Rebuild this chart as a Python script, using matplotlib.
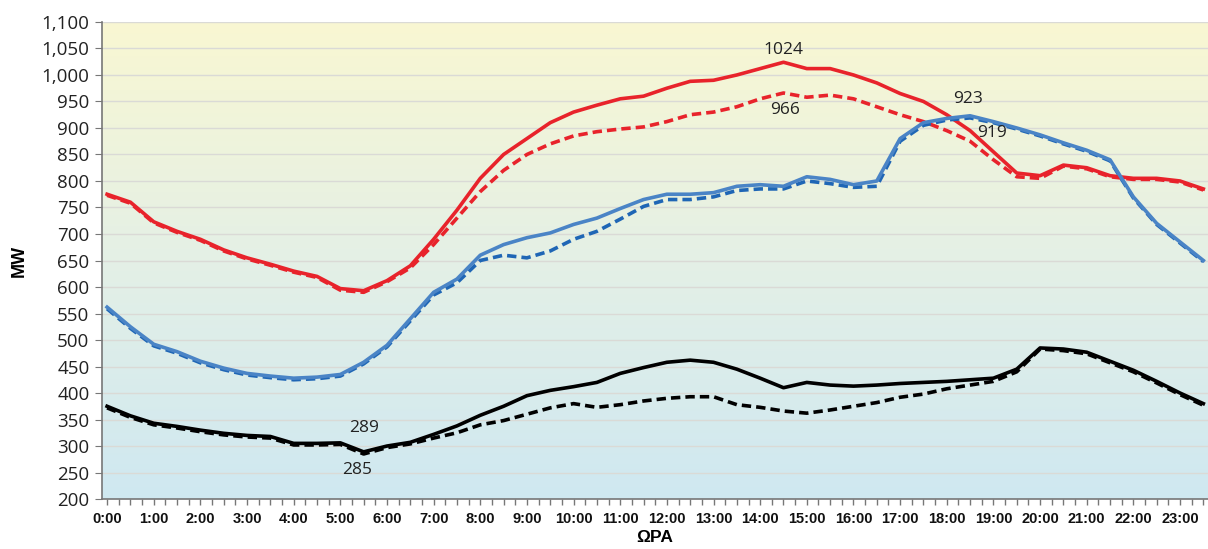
import numpy as np
import matplotlib
matplotlib.use("Agg")
import matplotlib.pyplot as plt
from matplotlib.colors import LinearSegmentedColormap

# Half-hour time points (hours)
hours = [h / 2 for h in range(48)]

red_solid = [775, 760, 723, 705, 690, 670, 655, 643, 630, 620, 597, 593,
             612, 640, 690, 745, 805, 850, 880, 910, 930, 943, 955, 960,
             975, 988, 990, 1000, 1012, 1024, 1012, 1012, 1000, 985, 965, 950,
             925, 895, 855, 815, 810, 830, 825, 810, 805, 805, 800, 785]
red_dashed = [773, 758, 721, 703, 688, 668, 653, 641, 628, 618, 594, 590,
              610, 636, 680, 730, 780, 820, 850, 870, 885, 893, 898, 902,
              912, 925, 930, 940, 955, 966, 958, 962, 955, 940, 925, 912,
              895, 875, 840, 808, 805, 828, 823, 808, 803, 803, 798, 783]
blue_solid = [562, 525, 492, 478, 460, 447, 437, 432, 428, 430, 435, 458,
              490, 540, 590, 615, 660, 680, 693, 702, 718, 730, 748, 765,
              775, 775, 778, 790, 793, 790, 808, 803, 793, 800, 880, 910,
              918, 923, 912, 900, 887, 872, 858, 840, 770, 720, 685, 650]
blue_dashed = [559, 522, 489, 475, 457, 444, 434, 429, 425, 427, 432, 455,
               487, 536, 585, 608, 650, 660, 655, 668, 690, 705, 728, 752,
               765, 765, 770, 782, 785, 785, 800, 795, 788, 790, 875, 905,
               915, 919, 910, 898, 885, 870, 856, 838, 768, 718, 683, 648]
black_solid = [375, 357, 343, 337, 330, 324, 320, 318, 305, 305, 306, 289,
               300, 307, 322, 338, 358, 375, 395, 405, 412, 420, 437, 448,
               458, 462, 458, 445, 428, 410, 420, 415, 413, 415, 418, 420,
               422, 425, 428, 445, 485, 483, 477, 460, 443, 422, 400, 380]
black_dashed = [372, 354, 340, 334, 327, 321, 317, 315, 302, 302, 303, 285,
                297, 304, 315, 325, 340, 348, 360, 372, 380, 373, 378, 385,
                390, 393, 393, 378, 373, 366, 362, 368, 375, 382, 392, 398,
                408, 415, 422, 440, 483, 480, 474, 457, 440, 419, 397, 377]

xtick_labels = [f"{h}:00" for h in range(24)]
annotations = [("1024", 14.49, 1047), ("966", 14.53, 934), ("923", 18.46, 955),
               ("919", 18.97, 890), ("289", 5.51, 334), ("285", 5.36, 255)]

fig = plt.figure(figsize=(12.08, 5.49), dpi=100)
ax = fig.add_axes([0.0844, 0.091, 0.9156, 0.869])

xmin, xmax = -0.11, 23.6
ymin, ymax = 200, 1100

# gradient background
cmap = LinearSegmentedColormap.from_list("bg", ["#cfe8f1", "#e4f0e6", "#f9f7d2"])
grad = np.linspace(0, 1, 256).reshape(-1, 1)
ax.imshow(grad, extent=[xmin, xmax, ymin, ymax], origin="lower", aspect="auto",
          cmap=cmap, zorder=0)

for y in range(250, 1101, 50):
    ax.axhline(y, color="#dadad6", lw=1.0, zorder=1)

red = "#e8232b"
blue_s = "#4a84c6"
blue_d = "#1f66b5"
lw = 2.6
dash = (0, (2.6, 1.4))
ax.plot(hours, red_solid, color=red, lw=lw, zorder=3)
ax.plot(hours, red_dashed, color=red, lw=lw, ls=dash, zorder=3)
ax.plot(hours, blue_dashed, color=blue_d, lw=lw, ls=dash, zorder=3)
ax.plot(hours, blue_solid, color=blue_s, lw=lw, zorder=4)
ax.plot(hours, black_dashed, color="black", lw=lw, ls=dash, zorder=3)
ax.plot(hours, black_solid, color="black", lw=lw, zorder=4)

for txt, x, y in annotations:
    ax.text(x, y, txt, ha="center", va="center", fontsize=12.5,
            family="Open Sans", color="#222222", zorder=5)

ax.set_xlim(xmin, xmax)
ax.set_ylim(ymin, ymax)
ax.set_yticks(range(200, 1101, 50))
ax.set_yticklabels([f"{v:,}" for v in range(200, 1101, 50)], family="Open Sans",
                   fontsize=13.5, color="#222222")
ax.set_xticks(range(24))
ax.set_xticklabels(xtick_labels, family="Liberation Sans", fontweight="bold",
                   fontsize=10.5, color="#111111")
ax.set_xticks(np.arange(0, 23.6, 0.25), minor=True)
ax.tick_params(axis="x", which="both", direction="out", length=4, color="#777777",
               width=1, pad=5)
ax.tick_params(axis="y", direction="out", length=5, color="#777777", pad=4)

for s in ["top", "right"]:
    ax.spines[s].set_visible(False)
for s in ["left", "bottom"]:
    ax.spines[s].set_color("#777777")
    ax.spines[s].set_linewidth(1.2)

ax.set_ylabel("MW", family="Liberation Sans", fontweight="bold", fontsize=13,
              labelpad=10)
ax.set_xlabel("ΩΡΑ", family="Liberation Sans", fontweight="bold", fontsize=12.5,
              labelpad=3)

fig.savefig("out.png", dpi=100)
